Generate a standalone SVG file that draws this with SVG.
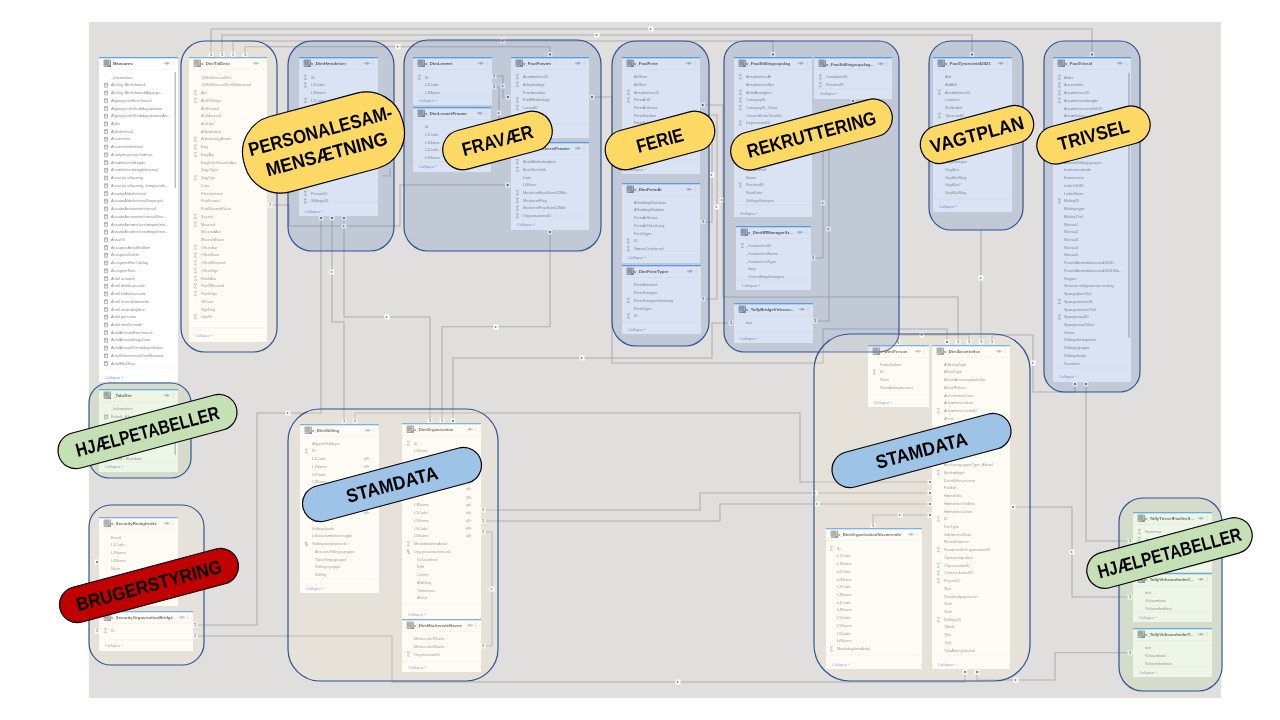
<svg xmlns="http://www.w3.org/2000/svg" width="1280" height="720" viewBox="0 0 1280 720">
<style>
text{font-family:"Liberation Sans",Arial,sans-serif}
.cn path{fill:none;stroke:#b0b0ae;stroke-width:1.1}
.lb{fill:#fff;stroke:#ddd;stroke-width:.3}
.lt{font-size:3.8px;fill:#444;text-anchor:middle;font-weight:bold}
.tb{fill:#fff}
.bar{fill:#55a7ee}
.sep{fill:none;stroke:#f1f1f1;stroke-width:.6}
.ti{font-size:4.3px;font-weight:bold;fill:#555}
.co{font-size:3.9px;fill:#8c97d4}
.rows text{font-size:3.9px;fill:#8e8e8e}
.rg{stroke:#2f5597;stroke-width:1.2;fill-opacity:.2}
.b{fill:#4472c4}.y{fill:#fff2cc}.g{fill:#a9d18e}
.bd rect{stroke:#000;stroke-width:1.2}
.bd text{font-size:19px;font-weight:bold;fill:#000;text-anchor:middle}
</style>
<defs>
<filter id="soft" x="0" y="0" width="100%" height="100%" filterUnits="userSpaceOnUse" primitiveUnits="userSpaceOnUse" color-interpolation-filters="sRGB"><feGaussianBlur stdDeviation=".35"/></filter>
<path id="s" d="M3-3.4H.2L1.8-1.4L.2.6H3" fill="none" stroke="#777" stroke-width=".45"/>
<path id="c" d="M0-3.2H3V.8H0ZM0-2.2H3" fill="#eee" stroke="#777" stroke-width=".45"/>
<path id="h" d="M0-3.2H1.6V-2H0ZM1-2V.6H3M1-.8H3" fill="none" stroke="#777" stroke-width=".45"/>
<g id="ic"><rect x="5" y="3" width="6.5" height="6.5" fill="#e6e6e6" stroke="#555" stroke-width=".5"/><path d="M5 5H11.5M5 7H11.5M7 3V9.5M9 3V9.5" stroke="#444" stroke-width=".5"/><path d="M9 8H12V10H9Z" fill="#6f8fc0"/></g>
<g id="eye"><path d="M0 0Q3-2.3 6 0Q3 2.3 0 0Z" fill="none" stroke="#888" stroke-width=".4"/><circle cx="3" r=".8" fill="#888"/></g>
<path id="eo" d="M0 0Q2.5-1.9 5 0Q2.5 1.9 0 0ZM.8 1.6L4.2-1.6" fill="none" stroke="#888" stroke-width=".4"/>
<path id="dt" d="M0-2V-1.4M0-.3V.3M0 1.4V2" stroke="#888" stroke-width=".6"/>
<g id="m"><rect class="lb" x="-2.6" y="-2.6" width="5.2" height="5.2"/><path d="M-1.1-1L1.1 0L-1.1 1Z" fill="#666"/></g>
<g id="d"><rect class="lb" x="-2.6" y="-2.6" width="5.2" height="5.2"/><circle r="1" fill="#444"/></g>
</defs>
<rect width="1280" height="720" fill="#fff"/>
<rect x="89" y="22" width="1132" height="676" fill="#e0dfdd"/>
<g id="screenshot" filter="url(#soft)">
<g id="connectors" class="cn">
<path d="M211 52V29H1092V53"/><path d="M222 52V35H972V53"/><path d="M233 52V41H773V53"/><path d="M245 52V46.7H550V53"/>
<path d="M272 205H289V226H400V185H507"/>
<path d="M321 218V413H257V625H195"/><path d="M195 636H392V682H965V672"/>
<path d="M332 218V322H344V421"/><path d="M344 218V317H430V421"/>
<path d="M442 421V326.7H550V232"/><path d="M731 323H712V358H453V421"/>
<path d="M355 421V413H800V482H930"/><path d="M485 510H700V493H930"/><path d="M485 521H720V504H930"/><path d="M485 532H492V646H485"/>
<path d="M496 76H503V97H506"/><path d="M496 87H499V125"/>
<path d="M592 97H612V363H823V329H947V342"/><path d="M992 342V335H1033V392H1075V386"/><path d="M898 344V335H969V342"/>
<path d="M1086 386V541H1128"/><path d="M981 230V342"/><path d="M704 105H723V297H958V342"/>
<path d="M704 115H717V299H705"/><path d="M704 222H712V130"/>
<path d="M815 321H829V110H853V103"/><path d="M813 258H823V120"/>
<path d="M1015 507H1072V597H1128"/><path d="M977 672V680H1055V652.7H1128"/><path d="M930 515H873V526"/>
<path d="M382 176H390V168"/>
<g id="labels">
<rect class="lb" x="208.4" y="52.1" width="5.2" height="5.2"/><text class="lt" x="211" y="56">1</text>
<rect class="lb" x="219.4" y="52.1" width="5.2" height="5.2"/><text class="lt" x="222" y="56">1</text>
<rect class="lb" x="230.4" y="52.1" width="5.2" height="5.2"/><text class="lt" x="233" y="56">1</text>
<rect class="lb" x="242.4" y="52.1" width="5.2" height="5.2"/><text class="lt" x="245" y="56">1</text>
<rect class="lb" x="267.4" y="202.4" width="5.2" height="5.2"/><text class="lt" x="270" y="206.3">1</text>
<rect class="lb" x="491.4" y="73.4" width="5.2" height="5.2"/><text class="lt" x="494" y="77.3">1</text>
<rect class="lb" x="491.4" y="84.4" width="5.2" height="5.2"/><text class="lt" x="494" y="88.3">1</text>
<rect class="lb" x="480.4" y="507.4" width="5.2" height="5.2"/><text class="lt" x="483" y="511.3">1</text>
<rect class="lb" x="480.4" y="518.4" width="5.2" height="5.2"/><text class="lt" x="483" y="522.3">1</text>
<rect class="lb" x="480.4" y="529.4" width="5.2" height="5.2"/><text class="lt" x="483" y="533.3">1</text>
<rect class="lb" x="480.4" y="643.4" width="5.2" height="5.2"/><text class="lt" x="483" y="647.3">1</text>
<rect class="lb" x="341.4" y="418.4" width="5.2" height="5.2"/><text class="lt" x="344" y="422.3">1</text>
<rect class="lb" x="352.4" y="418.4" width="5.2" height="5.2"/><text class="lt" x="355" y="422.3">1</text>
<rect class="lb" x="427.4" y="418.4" width="5.2" height="5.2"/><text class="lt" x="430" y="422.3">1</text>
<rect class="lb" x="439.4" y="418.4" width="5.2" height="5.2"/><text class="lt" x="442" y="422.3">1</text>
<rect class="lb" x="955.4" y="339.4" width="5.2" height="5.2"/><text class="lt" x="958" y="343.3">1</text>
<rect class="lb" x="966.4" y="339.4" width="5.2" height="5.2"/><text class="lt" x="969" y="343.3">1</text>
<rect class="lb" x="978.4" y="339.4" width="5.2" height="5.2"/><text class="lt" x="981" y="343.3">1</text>
<rect class="lb" x="989.4" y="339.4" width="5.2" height="5.2"/><text class="lt" x="992" y="343.3">1</text>
<rect class="lb" x="895.4" y="340.4" width="5.2" height="5.2"/><text class="lt" x="898" y="344.3">1</text>
<rect class="lb" x="700.4" y="219.4" width="5.2" height="5.2"/><text class="lt" x="703" y="223.3">1</text>
<rect class="lb" x="700.4" y="296.4" width="5.2" height="5.2"/><text class="lt" x="703" y="300.3">1</text>
<rect class="lb" x="810.4" y="255.4" width="5.2" height="5.2"/><text class="lt" x="813" y="259.3">1</text>
<rect class="lb" x="812.4" y="318.4" width="5.2" height="5.2"/><text class="lt" x="815" y="322.3">1</text>
<rect class="lb" x="728.4" y="320.4" width="5.2" height="5.2"/><text class="lt" x="731" y="324.3">1</text>
<rect class="lb" x="192.4" y="622.4" width="5.2" height="5.2"/><text class="lt" x="195" y="626.3">1</text>
<rect class="lb" x="192.4" y="633.4" width="5.2" height="5.2"/><text class="lt" x="195" y="637.3">1</text>
<rect class="lb" x="94.4" y="628.4" width="5.2" height="5.2"/><text class="lt" x="97" y="632.3">1</text>
<rect class="lb" x="1127.4" y="538.4" width="5.2" height="5.2"/><text class="lt" x="1130" y="542.3">1</text>
<rect class="lb" x="1127.4" y="594.4" width="5.2" height="5.2"/><text class="lt" x="1130" y="598.3">1</text>
<rect class="lb" x="1127.4" y="650.1" width="5.2" height="5.2"/><text class="lt" x="1130" y="654">1</text>
<rect class="lb" x="870.4" y="523.4" width="5.2" height="5.2"/><text class="lt" x="873" y="527.3">1</text>
<use href="#d" x="453" y="421"/><use href="#d" x="947" y="342"/><use href="#d" x="321" y="218"/><use href="#d" x="332" y="218"/><use href="#d" x="344" y="218"/>
<use href="#m" x="344" y="226"/><use href="#d" x="550" y="54.5"/><use href="#d" x="773" y="54.5"/><use href="#d" x="972" y="54.5"/><use href="#d" x="1092" y="54.5"/>
<use href="#d" x="508" y="97"/><use href="#d" x="592" y="97"/><use href="#d" x="702.7" y="105"/><use href="#d" x="853" y="101"/><use href="#d" x="550" y="232"/><use href="#d" x="507.7" y="185"/>
<use href="#d" x="1075" y="384"/><use href="#d" x="1086" y="384"/><use href="#d" x="930" y="482"/><use href="#d" x="930" y="493"/><use href="#d" x="930" y="504"/><use href="#d" x="930" y="515"/>
<use href="#d" x="1013" y="507"/><use href="#d" x="965" y="672"/><use href="#d" x="977" y="672"/><use href="#d" x="97" y="562"/>
<use href="#m" x="651" y="29"/><use href="#m" x="597" y="35"/><use href="#m" x="503" y="41"/><use href="#m" x="398" y="46.7"/><use href="#m" x="332" y="272"/><use href="#m" x="387" y="317"/><use href="#m" x="288" y="413"/><use href="#m" x="496" y="327"/><use href="#m" x="582" y="358"/><use href="#m" x="678" y="682"/><use href="#m" x="1016" y="680"/><use href="#m" x="1072" y="552"/><use href="#m" x="1033" y="363"/><use href="#m" x="492" y="589"/><use href="#m" x="722" y="200"/><use href="#m" x="711.7" y="175"/><use href="#m" x="716.7" y="207"/><use href="#m" x="823" y="203"/><use href="#m" x="828.7" y="229"/><use href="#m" x="922" y="335"/><use href="#m" x="981" y="278"/><use href="#m" x="815" y="493"/><use href="#m" x="817" y="504"/><use href="#m" x="900" y="515"/><use href="#m" x="499" y="113"/><use href="#m" x="503" y="86"/>
</g>
</g>

<g id="t-measures" transform="translate(99,57)"><rect class="tb" width="79" height="325"/><rect class="bar" width="79" height="1.3"/><path class="sep" d="M0 12.5H79M0 311H79"/><use href="#ic"/><text class="ti" x="14" y="8">Measures</text><use href="#eye" x="65" y="6.3"/><use href="#dt" x="74" y="6.3"/><rect x="75.5" y="15" width="1.4" height="116" fill="#bbb"/><text class="co" x="6" y="321.5">Collapse ^</text>
<g class="rows" transform="translate(12,21.7)"><text>_Information</text><text y="7.7">Anslag ifBenchmark</text><text y="15.5">Anslag ifBenchmarkAfgangs...</text><text y="23.2">AfgangsrateBenchmark</text><text y="30.9">AfgangsrateVendtdagsdatoen</text><text y="38.7">AfgangsrateVendtdagsdatoenAn...</text><text y="46.4">Alder</text><text y="54.1">AlderInterval</text><text y="61.8">Anciennitet</text><text y="69.6">AnciennitetInterval</text><text y="77.3">AnonymiseringsGrænse</text><text y="85">Ansættelseslængde</text><text y="92.8">Ansættelseslængdeinterval</text><text y="100.5">Ansat på afløsning</text><text y="108.2">Ansat på afløsning, foregående ...</text><text y="116">AnsatteAlderInterval</text><text y="123.7">AnsatteAlderIntervalStrategisk</text><text y="131.4">AnsatteAnciennitetInterval</text><text y="139.1">AnsatteAnciennitetIntervalStra...</text><text y="146.9">AnsatteAnsættelseslængdeInte...</text><text y="154.6">AnsatteAnsættelseslængdeInte...</text><text y="162.3">AnsatTil</text><text y="170">AssagereAntalMedlem</text><text y="177.8">AssagereDistrikt</text><text y="185.5">AssagereEfterOpslag</text><text y="193.3">AssagereSum</text><text y="201">Antal årsværk</text><text y="208.7">Antal deltidsansatte</text><text y="216.4">Antal fuldtidsansatte</text><text y="224.2">Antal månedslønnede</text><text y="231.9">Antal medarbejdere</text><text y="239.6">Antal personer</text><text y="247.4">Antal timelønnede</text><text y="255.1">AntalAnsatteBenchmark</text><text y="262.8">AntalAnsatteDagsDato</text><text y="270.6">AntalAnsatteVendtdagsdatoen</text><text y="278.3">AntalGennemsnitOverMaaned</text><text y="286">AntalMedSvar</text>
<use href="#c" x="-6.5" y="7.7"/><use href="#c" x="-6.5" y="15.5"/><use href="#c" x="-6.5" y="23.2"/><use href="#c" x="-6.5" y="30.9"/><use href="#c" x="-6.5" y="38.7"/><use href="#c" x="-6.5" y="46.4"/><use href="#c" x="-6.5" y="54.1"/><use href="#c" x="-6.5" y="61.8"/><use href="#c" x="-6.5" y="69.6"/><use href="#c" x="-6.5" y="77.3"/><use href="#c" x="-6.5" y="85"/><use href="#c" x="-6.5" y="92.8"/><use href="#c" x="-6.5" y="100.5"/><use href="#c" x="-6.5" y="108.2"/><use href="#c" x="-6.5" y="116"/><use href="#c" x="-6.5" y="123.7"/><use href="#c" x="-6.5" y="131.4"/><use href="#c" x="-6.5" y="139.1"/><use href="#c" x="-6.5" y="146.9"/><use href="#c" x="-6.5" y="154.6"/><use href="#c" x="-6.5" y="162.3"/><use href="#c" x="-6.5" y="170"/><use href="#c" x="-6.5" y="177.8"/><use href="#c" x="-6.5" y="185.5"/><use href="#c" x="-6.5" y="193.3"/><use href="#c" x="-6.5" y="201"/><use href="#c" x="-6.5" y="208.7"/><use href="#c" x="-6.5" y="216.4"/><use href="#c" x="-6.5" y="224.2"/><use href="#c" x="-6.5" y="231.9"/><use href="#c" x="-6.5" y="239.6"/><use href="#c" x="-6.5" y="247.4"/><use href="#c" x="-6.5" y="255.1"/><use href="#c" x="-6.5" y="262.8"/><use href="#c" x="-6.5" y="270.6"/><use href="#c" x="-6.5" y="278.3"/><use href="#c" x="-6.5" y="286"/></g></g>

<g id="t-dimtiddato" transform="translate(189,57)"><rect class="tb" width="78" height="285"/><rect class="bar" width="78" height="1.3"/><path class="sep" d="M0 12.5H78M0 271H78"/><use href="#ic"/><text class="ti" x="12" y="8">v_DimTidDato</text><use href="#eye" x="64" y="6.3"/><use href="#dt" x="73" y="6.3"/><text class="co" x="6" y="280">Collapse ^</text>
<g class="rows" transform="translate(12,21.7)"><text>12MdrIntervalSlut</text><text y="7.7">12MdrIntervalSlutMåltmåned</text><text y="15.5">Aar</text><text y="23.2">AarISOUge</text><text y="30.9">AarKvartal</text><text y="38.7">AarMaaned</text><text y="46.4">AarUge</text><text y="54.1">Arbejdsdag</text><text y="61.8">ArbejdsdagBinær</text><text y="69.6">Dag</text><text y="77.3">DagAar</text><text y="85">DagIDenMaanedAar</text><text y="92.8">DagsType</text><text y="100.5">DagUge</text><text y="108.2">Dato</text><text y="116">Filterkolonne</text><text y="123.7">KortKvartal</text><text y="131.4">KortMaanedNavn</text><text y="139.1">Kvartal</text><text y="146.9">Maaned</text><text y="154.6">MaanedAar</text><text y="162.3">MaanedNavn</text><text y="170">OffsetAar</text><text y="177.8">OffsetDato</text><text y="185.5">OffsetMaaned</text><text y="193.3">OffsetUge</text><text y="201">RankAar</text><text y="208.7">RankMaaned</text><text y="216.4">RankUge</text><text y="224.2">TilDato</text><text y="231.9">UgeDag</text><text y="239.6">UgeNr</text>
<use href="#s" x="-7" y="15.5"/><use href="#s" x="-7" y="23.2"/><use href="#s" x="-7" y="61.8"/><use href="#s" x="-7" y="69.6"/><use href="#s" x="-7" y="77.3"/><use href="#s" x="-7" y="100.5"/><use href="#s" x="-7" y="139.1"/><use href="#s" x="-7" y="146.9"/><use href="#s" x="-7" y="170"/><use href="#s" x="-7" y="177.8"/><use href="#s" x="-7" y="185.5"/><use href="#s" x="-7" y="193.3"/><use href="#s" x="-7" y="201"/><use href="#s" x="-7" y="208.7"/><use href="#s" x="-7" y="216.4"/><use href="#s" x="-7" y="239.6"/></g></g>

<g id="t-dimhaendelser" transform="translate(299,57)"><rect class="tb" width="79" height="159"/><rect class="bar" width="79" height="1.3"/><path class="sep" d="M0 12.5H79M0 145H79"/><use href="#ic"/><text class="ti" x="12" y="8">v_DimHændelser</text><use href="#eye" x="65" y="6.3"/><use href="#dt" x="74" y="6.3"/><text class="co" x="6" y="155.5">Collapse ^</text>
<g class="rows" transform="translate(12,21.7)"><text>ID</text><text y="7.7">L1Code</text><text y="15.5">L1Name</text><text y="23.2">L1Code</text><text y="116">PersonID</text><text y="123.7">StillingsID</text><use href="#s" x="-7"/><use href="#s" x="-7" y="7.7"/><use href="#s" x="-7" y="23.2"/><use href="#s" x="-7" y="116"/><use href="#s" x="-7" y="123.7"/></g></g>

<g id="t-dimlenaert" transform="translate(413,57)"><rect class="tb" width="79" height="48"/><rect class="bar" width="79" height="1.3"/><path class="sep" d="M0 12.5H79M0 39H79"/><use href="#ic"/><text class="ti" x="12" y="8">v_DimLenært</text><use href="#eye" x="65" y="6.3"/><use href="#dt" x="74" y="6.3"/><text class="co" x="6" y="45">Collapse ^</text>
<g class="rows" transform="translate(12,21.7)"><text>ID</text><text y="7.7">L1Code</text><text y="15.5">L1Name</text><use href="#s" x="-7"/></g></g>

<g id="t-dimlenaertfravaer" transform="translate(413,107)"><rect class="tb" width="78" height="65"/><rect class="bar" width="78" height="1.3"/><path class="sep" d="M0 12.5H78M0 55H78"/><use href="#ic"/><text class="ti" x="12" y="8">v_DimLenærtFravær</text><use href="#eye" x="64" y="6.3"/><use href="#dt" x="73" y="6.3"/><text class="co" x="6" y="61">Collapse ^</text>
<g class="rows" transform="translate(12,21.1)"><text>Id</text><text y="7.7">L1Code</text><text y="15.5">L1Name</text><text y="23.2">L2Code</text><text y="30.9">L2Name</text></g></g>

<g id="t-factfravaer" transform="translate(511,57)"><rect class="tb" width="78" height="81"/><rect class="bar" width="78" height="1.3"/><path class="sep" d="M0 12.5H78M0 67H78"/><use href="#ic"/><text class="ti" x="12" y="8">v_FactFravær</text><use href="#eye" x="64" y="6.3"/><use href="#dt" x="73" y="6.3"/>
<g class="rows" transform="translate(12,21.1)"><text>AnsættelsesID</text><text y="7.7">Arbejdsdage</text><text y="15.5">Fraværsdato</text><text y="23.2">FuldMeldedage</text><text y="30.9">LønartID</text><use href="#s" x="-7"/><use href="#s" x="-7" y="7.7"/><use href="#s" x="-7" y="23.2"/><use href="#s" x="-7" y="30.9"/></g></g>

<g id="t-factmaskeretfravaer" transform="translate(511,142)"><rect class="tb" width="78" height="88"/><rect class="bar" width="78" height="1.3"/><path class="sep" d="M0 12.5H78M0 74H78"/><use href="#ic"/><text class="ti" x="12" y="8">v_FactMaskeretFravær</text><use href="#eye" x="64" y="6.3"/><use href="#dt" x="73" y="6.3"/><text class="co" x="6" y="84">Collapse ^</text>
<g class="rows" transform="translate(12,21.1)"><text>AntalMedarbejdere</text><text y="7.7">BeskSumVirk</text><text y="15.5">Dato</text><text y="23.2">L0Navn</text><text y="30.9">MaskeretBeskSum12Mdr</text><text y="38.7">MaskeretFlag</text><text y="46.4">MaskeretFravSum12Mdr</text><text y="54.1">OrganisationsID</text><use href="#s" x="-7"/><use href="#s" x="-7" y="7.7"/><use href="#s" x="-7" y="30.9"/><use href="#s" x="-7" y="38.7"/><use href="#s" x="-7" y="46.4"/><use href="#s" x="-7" y="54.1"/></g></g>

<g id="t-factferie" transform="translate(622,57)"><rect class="tb" width="78" height="117"/><rect class="bar" width="78" height="1.3"/><path class="sep" d="M0 12.5H78M0 103H78"/><use href="#ic"/><text class="ti" x="12" y="8">v_FactFerie</text><use href="#eye" x="64" y="6.3"/><use href="#dt" x="73" y="6.3"/><text class="co" x="6" y="114">Collapse ^</text>
<g class="rows" transform="translate(12,21.1)"><text>AfrStart</text><text y="7.7">AfrSlut</text><text y="15.5">AnsættelsesID</text><text y="23.2">FerieÅrID</text><text y="30.9">FerieÅrStatus</text><text y="38.7">FerieSaldoer</text><text y="46.4">FerieSaldo</text><use href="#s" x="-7" y="15.5"/><use href="#s" x="-7" y="23.2"/></g></g>

<g id="t-dimferieaar" transform="translate(622,183)"><rect class="tb" width="78" height="80"/><rect class="bar" width="78" height="1.3"/><path class="sep" d="M0 12.5H78M0 68H78"/><use href="#ic"/><text class="ti" x="12" y="8">v_DimFerieÅr</text><use href="#eye" x="64" y="6.3"/><use href="#dt" x="73" y="6.3"/><text class="co" x="6" y="76.4">Collapse ^</text>
<g class="rows" transform="translate(12,20.7)"><text>AfholdingStartdato</text><text y="7.7">AfholdingSlutdato</text><text y="15.5">FerieÅrStatus</text><text y="23.2">FerieÅrTekstLang</text><text y="30.9">FerieType</text><text y="38.7">ID</text><text y="46.4">NæsteOverførsel</text><use href="#s" x="-7" y="38.7"/><use href="#s" x="-7" y="46.4"/></g></g>

<g id="t-dimferietyper" transform="translate(622,265)"><rect class="tb" width="79" height="69"/><rect class="bar" width="79" height="1.3"/><path class="sep" d="M0 12.5H79M0 57H79"/><use href="#ic"/><text class="ti" x="12" y="8">v_DimFerieTyper</text><use href="#eye" x="65" y="6.3"/><use href="#dt" x="74" y="6.3"/><text class="co" x="6" y="66">Collapse ^</text>
<g class="rows" transform="translate(12,21.4)"><text>FerieElement</text><text y="7.7">FerieKategori</text><text y="15.5">FerieKategoriSortering</text><text y="23.2">FerieType</text><text y="30.9">ID</text><use href="#s" x="-7" y="15.5"/><use href="#s" x="-7" y="30.9"/></g></g>

<g id="t-factstillingsopslag" transform="translate(734,57)"><rect class="tb" width="78" height="160"/><rect class="bar" width="78" height="1.3"/><path class="sep" d="M0 12.5H78M0 148H78"/><use href="#ic"/><text class="ti" x="12" y="8">v_FactStillingsopslag</text><use href="#eye" x="64" y="6.3"/><use href="#dt" x="73" y="6.3"/><text class="co" x="6" y="157.7">Collapse ^</text>
<g class="rows" transform="translate(12,21.1)"><text>AnsættelsesAr</text><text y="7.7">AnsættelsesBys</text><text y="15.5">AntalAnsøgere</text><text y="23.2">CategoryID</text><text y="30.9">CategoryID_Tekst</text><text y="38.7">CreatedDateTimeUtc</text><text y="46.4">DepartmentID</text><text y="92.8">IsPublished</text><text y="100.5">Name</text><text y="108.2">PositionID</text><text y="116">StartDate</text><text y="123.7">StillingsKategori</text><use href="#s" x="-7"/><use href="#s" x="-7" y="15.5"/><use href="#s" x="-7" y="23.2"/><use href="#s" x="-7" y="30.9"/><use href="#s" x="-7" y="46.4"/><use href="#s" x="-7" y="108.2"/></g></g>

<g id="t-factstillingsopslag2" transform="translate(814,57)"><rect class="tb" width="78" height="42"/><rect class="bar" width="78" height="1.3"/><path class="sep" d="M0 12.5H78M0 32H78"/><use href="#ic"/><text class="ti" x="12" y="8.5">v_FactStillingsopslag...</text><use href="#eye" x="64" y="6.8"/><use href="#dt" x="73" y="6.8"/><text class="co" x="6" y="38.4">Collapse ^</text>
<g class="rows" transform="translate(12,21.4)"><text>CandidateID</text><text y="7.7">PositionID</text><use href="#s" x="-7"/><use href="#s" x="-7" y="7.7"/></g></g>

<g id="t-dimhrmanager" transform="translate(736,226)"><rect class="tb" width="75" height="64"/><rect class="bar" width="75" height="1.3"/><path class="sep" d="M0 12.5H75M0 54H75"/><use href="#ic"/><text class="ti" x="12" y="8">v_DimHRManagerSt...</text><use href="#eye" x="61" y="6.3"/><use href="#dt" x="70" y="6.3"/><text class="co" x="6" y="61">Collapse ^</text>
<g class="rows" transform="translate(12,21.1)"><text>CustomListID</text><text y="7.7">CustomListName</text><text y="15.5">CustomListType</text><text y="23.2">lang</text><text y="30.9">OverstillingsKategori</text><use href="#s" x="-7"/></g></g>

<g id="t-tallybridge" transform="translate(734,303)"><rect class="tb" width="79" height="40"/><rect class="bar" width="79" height="1.3"/><path class="sep" d="M0 12.5H79M0 29H79"/><use href="#ic"/><text class="ti" x="12" y="8">v_TallyBridgeVirksom...</text><use href="#eye" x="65" y="6.3"/><use href="#dt" x="74" y="6.3"/><text class="co" x="6" y="36.5">Collapse ^</text>
<g class="rows" transform="translate(12,21.1)"><text>text</text></g></g>

<g id="t-facttjenestetid" transform="translate(933,57)"><rect class="tb" width="79" height="155"/><rect class="bar" width="79" height="1.3"/><path class="sep" d="M0 12.5H79M0 142H79"/><use href="#ic"/><text class="ti" x="12" y="8">v_FactTjenestetid2021</text><use href="#eye" x="65" y="6.3"/><use href="#dt" x="74" y="6.3"/><text class="co" x="6" y="151">Collapse ^</text>
<g class="rows" transform="translate(12,21.1)"><text>Afd</text><text y="7.7">AfdAfd</text><text y="15.5">AnsættelsesID</text><text y="23.2">Lovtekst</text><text y="30.9">ShiftLabel</text><text y="38.7">TjenesteID</text><text y="85">VagtKategori</text><text y="92.8">VagtKat</text><text y="100.5">VagtKatSlag</text><text y="108.2">VagtKat#</text><text y="116">VagtKatSlag</text><use href="#s" x="-7" y="15.5"/><use href="#s" x="-7" y="38.7"/></g></g>

<g id="t-facttrivsel" transform="translate(1053,57)"><rect class="tb" width="78" height="325"/><rect class="bar" width="78" height="1.3"/><path class="sep" d="M0 12.5H78M0 311H78"/><use href="#ic"/><text class="ti" x="12" y="8">v_FactTrivsel</text><use href="#eye" x="64" y="6.3"/><use href="#dt" x="73" y="6.3"/><rect x="75.3" y="15.7" width="1.4" height="265" fill="#b5b9c0"/><text class="co" x="6" y="321">Collapse ^</text>
<g class="rows" transform="translate(11,21.7)"><text>Alder</text><text y="7.7">Anciennitet</text><text y="15.5">AnsættelsesID</text><text y="23.2">Ansættelseslængde</text><text y="30.9">AnsættelsesstedGUID</text><text y="38.7">Ansættelses...</text><text y="85">AnsvarStillingsgruppe</text><text y="92.8">Institutionskode</text><text y="100.5">Kommentar</text><text y="108.2">LederGUID</text><text y="116">LederNavn</text><text y="123.7">MålingID</text><text y="131.4">Målingstype</text><text y="139.1">MålingTitel</text><text y="146.9">Niveau1</text><text y="154.6">Niveau2</text><text y="162.3">Niveau3</text><text y="170">Niveau4</text><text y="177.8">Niveau5</text><text y="185.5">ParentAnsættelsesstedGUID</text><text y="193.3">ParentAnsættelsesstedGUIDNa...</text><text y="201">Region</text><text y="208.7">Seneste obligatoriske måling</text><text y="216.4">SpørgeplanTitel</text><text y="224.2">SpørgerammeID</text><text y="231.9">SpørgerammeTitel</text><text y="239.6">SpørgsmaalID</text><text y="247.4">SpørgsmaalTekst</text><text y="255.1">Status</text><text y="262.8">Stillingsbetegnelse</text><text y="270.6">Stillingsgruppe</text><text y="278.3">Stillingskode</text><text y="286">Svardato</text><use href="#s" x="-6" /><use href="#s" x="-6" y="7.7"/><use href="#s" x="-6" y="15.5"/><use href="#s" x="-6" y="23.2"/><use href="#s" x="-6" y="123.7"/><use href="#s" x="-6" y="224.2"/><use href="#s" x="-6" y="239.6"/></g></g>

<g id="t-tabeller" transform="translate(99,389)"><rect class="tb" width="79" height="83"/><rect class="bar" width="79" height="1.3"/><path class="sep" d="M0 12.5H79M0 73H79"/><use href="#ic"/><text class="ti" x="14" y="8">_Tabeller</text><use href="#eye" x="65" y="6.3"/><use href="#dt" x="74" y="6.3"/><rect x="75.5" y="16" width="1.4" height="50" fill="#bbb"/><text class="co" x="6" y="79">Collapse ^</text>
<g class="rows" transform="translate(12,21.4)"><text>_Information</text><text y="7.7">Enkelt - Alm.fag</text><text y="49.5">Enhed - Standard</text><use href="#c" x="-6.5" y="7.7"/></g></g>

<g id="t-securityrettigheder" transform="translate(99,517)"><rect class="tb" width="79" height="89"/><rect class="bar" width="79" height="1.3"/><path class="sep" d="M0 12.5H79"/><use href="#ic"/><text class="ti" x="12" y="8">v_SecurityRettigheder</text><use href="#eye" x="65" y="6.3"/><use href="#dt" x="74" y="6.3"/>
<g class="rows" transform="translate(12,21.7)"><text>Email</text><text y="7.7">L1Code</text><text y="15.5">L1Name</text><text y="23.2">L0Name</text><text y="30.9">Navn</text></g></g>

<g id="t-securitybridge" transform="translate(99,611)"><rect class="tb" width="94" height="40"/><rect class="bar" width="94" height="1.3"/><path class="sep" d="M0 12.5H94M0 29H94"/><use href="#ic"/><text class="ti" x="12" y="8">v_SecurityOrganisationBridge</text><use href="#eye" x="80" y="6.3"/><use href="#dt" x="89" y="6.3"/><text class="co" x="6" y="36.4">Collapse ^</text>
<g class="rows" transform="translate(12,21)"><text>ID</text><use href="#s" x="-7"/></g></g>

<g id="t-dimstilling" transform="translate(300,424)"><rect class="tb" width="79" height="169"/><rect class="bar" width="79" height="1.3"/><path class="sep" d="M0 12.5H79M0 155H79"/><use href="#ic"/><text class="ti" x="12" y="8">v_DimStilling</text><use href="#eye" x="65" y="6.3"/><use href="#dt" x="74" y="6.3"/><text class="co" x="6" y="166">Collapse ^</text>
<g class="rows" transform="translate(12,20.7)"><text>AfgivenStillinger</text><text y="7.7">ID</text><text y="15.5">L1Code</text><text y="23.2">L1Name</text><text y="30.9">L2Code</text><text y="38.7">L2Name</text><text y="77.3">Leder</text><text y="85">Stillingskode</text><text y="92.8">Lokalansættelsesnøgle</text><text y="100.5">Stillingskodehierarki</text><text x="3" y="108.2">AnsvarsStillingsgruppe</text><text x="3" y="116">Topstillingsgruppe</text><text x="3" y="123.7">Stillingsgruppe</text><text x="3" y="131.4">Stilling</text><use href="#s" x="-7" y="7.7"/><use href="#h" x="-7" y="100.5"/><use href="#eo" x="52" y="14"/><use href="#eo" x="52" y="21.7"/><use href="#eo" x="52" y="68"/></g></g>

<g id="t-dimorganisation" transform="translate(402,423)"><rect class="tb" width="79" height="197"/><rect class="bar" width="79" height="1.3"/><path class="sep" d="M0 12.5H79M0 181H79"/><use href="#ic"/><text class="ti" x="12" y="8">v_DimOrganisation</text><use href="#eye" x="65" y="6.3"/><use href="#dt" x="74" y="6.3"/><text class="co" x="6" y="192.7">Collapse ^</text>
<g class="rows" transform="translate(12,21.7)"><text>ID</text><text y="7.7">L1Code</text><text y="61.8">L4Name</text><text y="69.6">L5Code</text><text y="77.3">L5Name</text><text y="85">L6Code</text><text y="92.8">L6Name</text><text y="100.5">MedarbejdereAntal</text><text y="108.2">Organisationshierarki</text><text x="3" y="116">Virksomhed</text><text x="3" y="123.7">Drift</text><text x="3" y="131.4">Center</text><text x="3" y="139.1">Afdeling</text><text x="3" y="146.9">Tætniveau</text><text x="3" y="154.6">Afsnit</text><use href="#s" x="-7"/><use href="#s" x="-7" y="100.5"/><use href="#h" x="-7" y="108.2"/><use href="#eo" x="52" y="6.3"/><use href="#eo" x="52" y="44"/><use href="#eo" x="52" y="52.7"/><use href="#eo" x="52" y="60.4"/><use href="#eo" x="52" y="68.1"/><use href="#eo" x="52" y="75.9"/><use href="#eo" x="52" y="83.6"/><use href="#eo" x="52" y="91.3"/></g></g>

<g id="t-dimmaskeredenavne" transform="translate(402,619)"><rect class="tb" width="79" height="53"/><rect class="bar" width="79" height="1.3"/><path class="sep" d="M0 12.5H79M0 43H79"/><use href="#ic"/><text class="ti" x="12" y="8">v_DimMaskeredeNavne</text><use href="#eye" x="65" y="6.3"/><use href="#dt" x="74" y="6.3"/><text class="co" x="6" y="50.4">Collapse ^</text>
<g class="rows" transform="translate(12,21)"><text>MaskeretL1Name</text><text y="7.7">MaskeretL2Name</text><text y="15.5">OrganisationID</text><use href="#s" x="-7" y="15.5"/></g></g>

<g id="t-dimperson" transform="translate(868,345)"><rect class="tb" width="61" height="62"/><rect class="bar" width="61" height="1.3"/><path class="sep" d="M0 12.5H61M0 50H61"/><use href="#ic"/><text class="ti" x="12" y="8">v_DimPerson</text><use href="#eye" x="47" y="6.3"/><use href="#dt" x="56" y="6.3"/><text class="co" x="6" y="58.7">Collapse ^</text>
<g class="rows" transform="translate(12,20.7)"><text>Fødselsdato</text><text y="7.7">ID</text><text y="15.5">Navn</text><text y="23.2">NavnAnonymiseret</text><use href="#s" x="-7" y="7.7"/></g></g>

<g id="t-dimansaettelse" transform="translate(932,345)"><rect class="tb" width="78" height="324"/><rect class="bar" width="78" height="1.3"/><path class="sep" d="M0 12.5H78M0 310H78"/><use href="#ic"/><text class="ti" x="12" y="8">v_DimAnsættelse</text><use href="#eye" x="64" y="6.3"/><use href="#dt" x="73" y="6.3"/><text class="co" x="6" y="321">Collapse ^</text>
<g class="rows" transform="translate(12,20.7)"><text>AfdelingTypk</text><text y="7.7">AfsnitTypk</text><text y="15.5">AktuelAnsvarsplanKolor</text><text y="23.2">AktuelFaktor</text><text y="30.9">AnciennitetsDato</text><text y="38.7">Ansættelsesdato</text><text y="46.4">AnsættelsesformID</text><text y="54.1">Ansat</text><text y="100.5">AnsLønsgruppeType_Aktuel</text><text y="108.2">Beskæftiget</text><text y="116">DistriktFinansieret</text><text y="123.7">Fuldtid</text><text y="131.4">Hændelse</text><text y="139.1">HændelseVirkBes</text><text y="146.9">HændelsesDato</text><text y="154.6">ID</text><text y="162.3">InvrTypk</text><text y="170">JubilæumsDato</text><text y="177.8">Månedslønnet</text><text y="185.5">NuværendeOrganisationID</text><text y="193.3">Opdateringsdato</text><text y="201">OrganisationID</text><text y="208.7">OverenskomstID</text><text y="216.4">PersonID</text><text y="224.2">Slut</text><text y="231.9">Standardpopulation</text><text y="239.6">Start</text><text y="247.4">Start</text><text y="255.1">StillingsID</text><text y="262.8">Titleid</text><text y="270.6">Tjks</text><text y="278.3">Tjek</text><text y="286">TjekAnonymiseret</text><use href="#s" x="-7" y="46.4"/><use href="#s" x="-7" y="108.2"/><use href="#s" x="-7" y="154.6"/><use href="#s" x="-7" y="185.5"/><use href="#s" x="-7" y="201"/><use href="#s" x="-7" y="208.7"/><use href="#s" x="-7" y="216.4"/><use href="#s" x="-7" y="255.1"/></g></g>

<g id="t-dimorgnuvaerende" transform="translate(826,528)"><rect class="tb" width="96" height="141"/><rect class="bar" width="96" height="1.3"/><path class="sep" d="M0 12.5H96M0 127H96"/><use href="#ic"/><text class="ti" x="12" y="8">v_DimOrganisationNuværende</text><use href="#eye" x="82" y="6.3"/><use href="#dt" x="91" y="6.3"/><text class="co" x="6" y="137.7">Collapse ^</text>
<g class="rows" transform="translate(11,21.7)"><text>ID</text><text y="7.7">L1Code</text><text y="15.5">L1Name</text><text y="23.2">L2Code</text><text y="30.9">L2Name</text><text y="38.7">L3Code</text><text y="46.4">L3Name</text><text y="54.1">L4Code</text><text y="61.8">L4Name</text><text y="69.6">L5Code</text><text y="77.3">L5Name</text><text y="85">L6Code</text><text y="92.8">L6Name</text><text y="100.5">MedarbejdereAntal</text><use href="#s" x="-7"/><use href="#s" x="-7" y="100.5"/></g></g>

<g id="t-tallytrivsel" transform="translate(1133,512)"><rect class="tb" width="79" height="60"/><rect class="bar" width="79" height="1.3"/><path class="sep" d="M0 12.5H79"/><use href="#ic"/><text class="ti" x="12" y="8">v_TallyTrivselFaellesS...</text><use href="#eye" x="65" y="6.3"/><use href="#dt" x="74" y="6.3"/>
<g class="rows" transform="translate(12,21.1)"><text>Sortering</text><text y="7.7">Tegn</text><use href="#s" x="-7"/><use href="#s" x="-7" y="7.7"/></g></g>

<g id="t-tallyvirk1" transform="translate(1133,573)"><rect class="tb" width="79" height="49"/><rect class="bar" width="79" height="1.3"/><path class="sep" d="M0 12.5H79M0 39H79"/><use href="#ic"/><text class="ti" x="12" y="8">v_TallyVirksomheder1...</text><use href="#eye" x="65" y="6.3"/><use href="#dt" x="74" y="6.3"/><text class="co" x="6" y="46">Collapse ^</text>
<g class="rows" transform="translate(12,21.1)"><text>text</text><text y="7.7">Virksomhed</text><text y="15.5">Virksomhedtext</text></g></g>

<g id="t-tallyvirk2" transform="translate(1133,628)"><rect class="tb" width="79" height="49"/><rect class="bar" width="79" height="1.3"/><path class="sep" d="M0 12.5H79M0 39H79"/><use href="#ic"/><text class="ti" x="12" y="8">v_TallyVirksomhederT...</text><use href="#eye" x="65" y="6.3"/><use href="#dt" x="74" y="6.3"/><text class="co" x="6" y="46">Collapse ^</text>
<g class="rows" transform="translate(12,21.1)"><text>text</text><text y="7.7">Virksomhed</text><text y="15.5">Virksomhedtext</text></g></g>
</g>

<g id="regions">
<rect class="rg y" x="181" y="41" width="96" height="311" rx="24"/>
<rect class="rg b" x="288" y="41" width="106" height="210" rx="24"/>
<rect class="rg b" x="404" y="40" width="197" height="211" rx="24"/>
<rect class="rg b" x="612" y="41" width="97" height="305" rx="24"/>
<rect class="rg b" x="724" y="41" width="175" height="311" rx="20"/>
<rect class="rg b" x="929" y="41" width="94" height="189" rx="22"/>
<rect class="rg b" x="1044" y="41" width="96" height="351" rx="20"/>
<rect class="rg g" x="89" y="383" width="102" height="95" rx="20"/>
<rect class="rg y" x="89" y="505" width="115" height="160" rx="22"/>
<rect class="rg y" x="288" y="409" width="210" height="272" rx="32"/>
<rect class="rg y" x="814" y="334" width="216" height="347" rx="36"/>
<rect class="rg g" x="1119" y="498" width="103" height="193" rx="24"/>
</g>

<g id="badges" class="bd">
<g id="b-personale" transform="translate(323.5,142.5) rotate(-15)"><rect x="-82" y="-39" width="164" height="78" rx="37" fill="#ffd966"/><text y="-5.5" textLength="148" lengthAdjust="spacingAndGlyphs">PERSONALESAM-</text><text y="18.5" textLength="125" lengthAdjust="spacingAndGlyphs">MENSÆTNING</text></g>
<g id="b-fravaer" transform="translate(497.5,140.5) rotate(-15)"><rect x="-56" y="-20" width="112" height="40" rx="20" fill="#ffd966"/><text y="6.5" textLength="73" lengthAdjust="spacingAndGlyphs">FRAVÆR</text></g>
<g id="b-ferie" transform="translate(660,140.5) rotate(-15)"><rect x="-56" y="-20" width="112" height="40" rx="20" fill="#ffd966"/><text y="6.5" textLength="48" lengthAdjust="spacingAndGlyphs">FERIE</text></g>
<g id="b-rekruttering" transform="translate(811.5,134.5) rotate(-15)"><rect x="-83" y="-19" width="166" height="38" rx="19" fill="#ffd966"/><text y="6.5" textLength="133" lengthAdjust="spacingAndGlyphs">REKRUTTERING</text></g>
<g id="b-vagtplan" transform="translate(977,134.5) rotate(-15)"><rect x="-58" y="-19" width="116" height="38" rx="19" fill="#ffd966"/><text y="6.5" textLength="96" lengthAdjust="spacingAndGlyphs">VAGTPLAN</text></g>
<g id="b-trivsel" transform="translate(1093.5,135) rotate(-15)"><rect x="-58" y="-19" width="116" height="38" rx="19" fill="#ffd966"/><text y="6.5" textLength="73" lengthAdjust="spacingAndGlyphs">TRIVSEL</text></g>
<g id="b-hjaelp1" transform="translate(147.5,431.5) rotate(-15)"><rect x="-92" y="-18" width="184" height="36" rx="18" fill="#c5e0b4"/><text y="6.5" textLength="148" lengthAdjust="spacingAndGlyphs">HJÆLPETABELLER</text></g>
<g id="b-bruger" transform="translate(149,585.5) rotate(-15)"><rect x="-92" y="-18" width="184" height="36" rx="18" fill="#c00000"/><text y="6.5" textLength="150" lengthAdjust="spacingAndGlyphs">BRUGERSTYRING</text></g>
<g id="b-stamdata1" transform="translate(392,484.5) rotate(-15)"><rect x="-92" y="-18" width="184" height="36" rx="18" fill="#9dc3e6"/><text y="6.5" textLength="94" lengthAdjust="spacingAndGlyphs">STAMDATA</text></g>
<g id="b-stamdata2" transform="translate(921.5,450.5) rotate(-15)"><rect x="-92" y="-18" width="184" height="36" rx="18" fill="#9dc3e6"/><text y="6.5" textLength="94" lengthAdjust="spacingAndGlyphs">STAMDATA</text></g>
<g id="b-hjaelp2" transform="translate(1169.5,553) rotate(-15)"><rect x="-85" y="-18" width="170" height="36" rx="18" fill="#c5e0b4"/><text y="6.5" textLength="148" lengthAdjust="spacingAndGlyphs">HJÆLPETABELLER</text></g>
</g>
</svg>
